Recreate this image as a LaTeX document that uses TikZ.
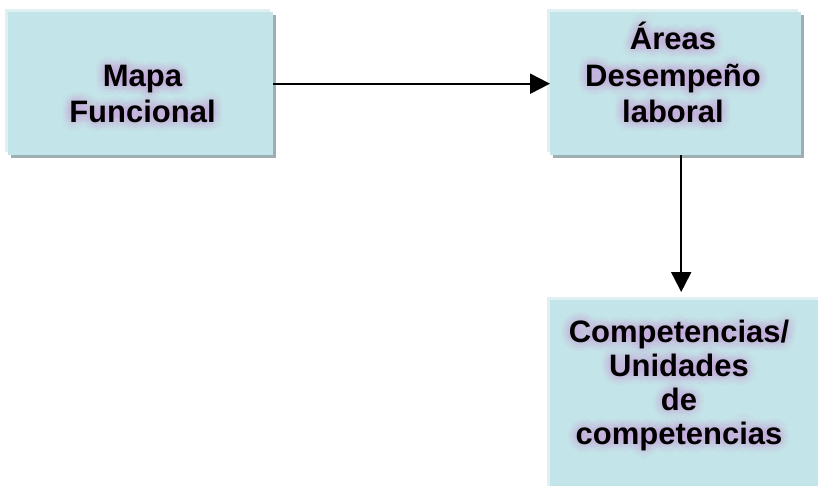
\documentclass[tikz,border=0pt]{standalone}
\usepackage{fontspec}
\setmainfont{Liberation Sans}
\usepackage{tikz}
\usetikzlibrary{calc,positioning,shadows,arrows.meta}

\definecolor{boxfill}{RGB}{195,228,232}
\definecolor{boxlight}{RGB}{222,240,242}
\definecolor{boxshadow}{RGB}{158,175,178}
\definecolor{glowpink}{RGB}{205,150,220}

\tikzset{
	box/.style={shape=rectangle,fill=boxfill,inner sep=0,anchor=north west,
		general shadow={shadow xshift=-3pt,shadow yshift=3pt,fill=boxlight},
		general shadow={shadow xshift=2.5pt,shadow yshift=-2.5pt,fill=boxshadow}},
	boxtext/.style={align=center,anchor=base,font=\fontsize{31}{36}\selectfont\bfseries},
	glowtext/.style={boxtext,text=glowpink,text opacity=0.05},
	flow/.style={-{Triangle[length=20pt,width=20pt]},line width=2pt}
}

% text with a soft glow behind it: name, options, position, text
\newcommand{\glowlabel}[4]{%
	\foreach \r in {3,6,9}{\foreach \a in {0,30,...,330}{
		\node [glowtext,#2] at ($#3+(\a:\r)$) {#4};}}
	\node(#1) [boxtext,#2] at #3 {#4};}

\begin{document}
\begin{tikzpicture}[x=1pt,y=-1pt]
	\useasboundingbox (0,0) rectangle (818,486);
	\clip (0,0) rectangle (818,486);
	\begin{scope}
		% boxes
		\node(mapa)  [box,minimum width=265,minimum height=143] at (8,12) {};
		\node(areas) [box,minimum width=251,minimum height=143] at (550,12) {};
		\node(comp)  [box,minimum width=280,minimum height=200] at (550,300) {};
		% texts (anchored at the last baseline)
		\glowlabel{mapatxt}{}{(142.5,123)}{Mapa\\Funcional}
		\glowlabel{areastxt}{font=\fontsize{31}{36.5}\selectfont\bfseries}{(673,123)}{Áreas\\Desempeño\\laboral}
		\glowlabel{comptxt}{font=\fontsize{31}{33.7}\selectfont\bfseries}{(679,444)}{Competencias/\\Unidades\\de\\competencias}
		% connectors
		\coordinate(drop) at ($(areas.south)+(5.5,0)$);
		\draw[flow] (mapa) -- (areas);
		\draw[flow,shorten >=8pt] (drop) -- (drop |- comp.north);
	\end{scope}
\end{tikzpicture}
\end{document}
